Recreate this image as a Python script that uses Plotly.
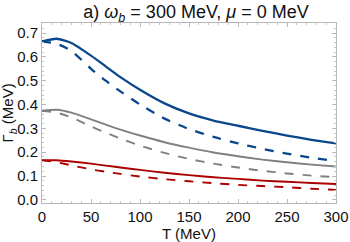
import plotly.graph_objects as go

T = [0, 15, 30, 50, 65, 80, 100, 125, 150, 175, 200, 225, 250, 275, 300]
blue_solid = [0.665, 0.676, 0.658, 0.605, 0.560, 0.515, 0.462, 0.405, 0.363, 0.333, 0.311, 0.290, 0.270, 0.252, 0.237]
blue_dashed = [0.665, 0.655, 0.625, 0.550, 0.500, 0.455, 0.400, 0.341, 0.297, 0.264, 0.237, 0.214, 0.194, 0.177, 0.163]
gray_solid = [0.374, 0.378, 0.366, 0.338, 0.316, 0.295, 0.270, 0.242, 0.219, 0.199, 0.183, 0.169, 0.158, 0.148, 0.140]
gray_dashed = [0.374, 0.366, 0.346, 0.308, 0.282, 0.257, 0.228, 0.197, 0.172, 0.152, 0.136, 0.122, 0.111, 0.102, 0.095]
red_solid = [0.166, 0.166, 0.161, 0.152, 0.144, 0.136, 0.126, 0.114, 0.104, 0.095, 0.088, 0.081, 0.076, 0.071, 0.067]
red_dashed = [0.166, 0.158, 0.145, 0.128, 0.118, 0.109, 0.098, 0.087, 0.078, 0.070, 0.063, 0.058, 0.053, 0.047, 0.042]

BLUE = "rgb(10,70,140)"
GRAY = "rgb(128,128,128)"
RED = "rgb(170,0,0)"

fig = go.Figure()
series = [
    (blue_solid, BLUE, "solid", 2.3),
    (blue_dashed, BLUE, "dash", 2.3),
    (gray_solid, GRAY, "solid", 1.9),
    (gray_dashed, GRAY, "dash", 1.9),
    (red_solid, RED, "solid", 1.9),
    (red_dashed, RED, "dash", 1.9),
]
for ys, c, d, w in series:
    fig.add_trace(go.Scatter(x=T, y=ys, mode="lines",
                             line=dict(color=c, dash=d, width=w, shape="spline", smoothing=0.6),
                             showlegend=False, hoverinfo="skip"))

FONT = "Liberation Sans, Arial, sans-serif"
axis_common = dict(showline=True, linecolor="#b8b8b8", linewidth=1, mirror="ticks",
                   ticks="inside", ticklen=4, tickcolor="#b8b8b8", showgrid=False, zeroline=False,
                   automargin=False,
                   tickfont=dict(size=15, color="#111", family=FONT))

fig.update_xaxes(range=[0, 300], tickvals=[0, 50, 100, 150, 200, 250, 300],
                 minor=dict(dtick=10, ticks="inside", ticklen=2, tickcolor="#c8c8c8"),
                 **axis_common)
fig.update_yaxes(range=[-0.013, 0.742], tickvals=[0, 0.1, 0.2, 0.3, 0.4, 0.5, 0.6, 0.7],
                 tickformat=".1f",
                 minor=dict(dtick=0.02, ticks="inside", ticklen=2, tickcolor="#c8c8c8"),
                 **axis_common)

fig.add_annotation(text="T (MeV)", xref="paper", yref="paper", x=0.5, y=-0.172,
                   xanchor="center", yanchor="middle", showarrow=False,
                   font=dict(size=15, color="#111", family=FONT))
fig.add_annotation(text="Γ<sub><i>b</i></sub> (MeV)", xref="paper", yref="paper", x=-0.114, y=0.5,
                   xanchor="center", yanchor="middle", textangle=-90, showarrow=False,
                   font=dict(size=15, color="#111", family=FONT))

fig.update_layout(
    width=350, height=242,
    margin=dict(l=42, r=14, t=23, b=39, autoexpand=False),
    paper_bgcolor="white", plot_bgcolor="white",
    font=dict(family=FONT, color="#111"),
    title=dict(text="a) <i>ω<sub>b</sub></i> = 300 MeV, <i>μ</i> = 0 MeV",
               x=0.56, xanchor="center", y=0.95, yanchor="middle",
               font=dict(size=18, color="#111")),
)

fig.write_html("out.html", config={"displayModeBar": False, "staticPlot": True},
               post_script="document.body.style.margin='0';document.body.style.overflow='hidden';")
